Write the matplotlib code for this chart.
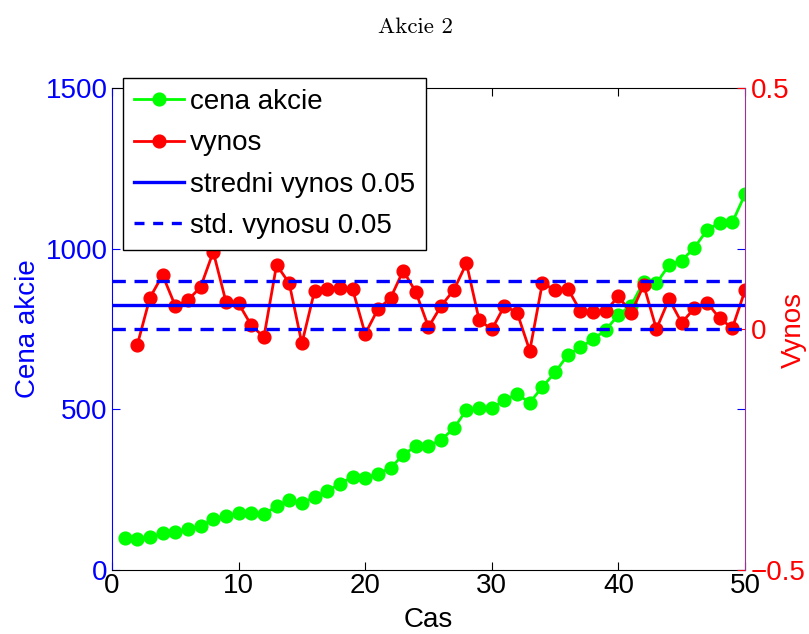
import matplotlib
matplotlib.use("Agg")
from matplotlib import pyplot as plt
from matplotlib.lines import Line2D
import numpy as np

# data
cas = np.arange(1, 51)
cena = [99, 96, 102, 114, 119, 127, 137, 158, 168, 176,
        178, 173, 199, 218, 209, 226, 246, 268, 290, 287,
        299, 318, 358, 386, 386, 405, 441, 498, 503, 503,
        529, 547, 521, 570, 615, 669, 693, 718, 747, 794,
        823, 897, 892, 949, 963, 1003, 1058, 1081, 1082, 1169]
cas_vynos = np.arange(2, 51)
vynos = [-0.033, 0.065, 0.112, 0.048, 0.060, 0.087, 0.160, 0.057, 0.053,
         0.008, -0.017, 0.133, 0.095, -0.030, 0.079, 0.084, 0.086, 0.083,
         -0.010, 0.041, 0.064, 0.121, 0.077, 0.004, 0.048, 0.081, 0.136,
         0.019, -0.001, 0.048, 0.034, -0.045, 0.096, 0.080, 0.084, 0.037,
         0.036, 0.037, 0.068, 0.033, 0.091, 0.000, 0.062, 0.013, 0.043,
         0.055, 0.022, 0.002, 0.080]
stredni = 0.05
std_vynosu = 0.05

plt.rcParams['font.family'] = ['Liberation Sans', 'DejaVu Sans']

fig = plt.figure(figsize=(8.09, 6.34), dpi=100)
ax = fig.add_axes([0.1384, 0.1009, 0.7825, 0.7603])
ax2 = ax.twinx()

green = '#00ff00'
lw, ms = 2.0, 9.2
dash = (4.0, 2.6)
ax.plot(cas, cena, '-o', color=green, lw=lw, ms=ms)
ax.set_xlim(0, 50)
ax.set_ylim(0, 1500)
ax.set_xticks(range(0, 51, 10))
ax.set_yticks([0, 500, 1000, 1500])

ax2.plot(cas_vynos, vynos, '-o', color='red', lw=lw, ms=ms)
ax2.plot([0, 50], [stredni, stredni], '-', color='blue', lw=2.4)
ax2.plot([0, 50], [stredni + std_vynosu] * 2, '--', color='blue', lw=2.4, dashes=dash)
ax2.plot([0, 50], [stredni - std_vynosu] * 2, '--', color='blue', lw=2.4, dashes=dash)
ax2.set_ylim(-0.5, 0.5)
ax2.set_yticks([-0.5, 0, 0.5])
ax2.set_yticklabels(['\u22120.5', '0', '0.5'])

fs = 20
ax.tick_params(axis='x', direction='in', length=6, labelsize=fs, top=True, colors='black', pad=2)
ax.tick_params(axis='y', direction='in', length=6, labelsize=fs, right=True, colors='blue', pad=3)
ax2.tick_params(axis='y', direction='in', length=6, labelsize=fs, colors='red', pad=4)

ax.spines['left'].set_color('blue')
ax2.spines['left'].set_visible(False)
ax.spines['right'].set_visible(False)
ax2.spines['right'].set_color('#993399')
ax2.spines['top'].set_visible(False)
ax2.spines['bottom'].set_visible(False)

ax.set_xlabel('Cas', fontsize=fs)
ax.xaxis.set_label_coords(0.5, -(620 - 570) / 482)
ax.xaxis.label.set_va('center')
ax.set_ylabel('Cena akcie', fontsize=fs, color='blue')
ax.yaxis.set_label_coords((28 - 112) / 633, 0.5)
ax.yaxis.label.set_va('center')
ax2.set_ylabel('Vynos', fontsize=fs, color='red')
ax2.yaxis.set_label_coords((794 - 112) / 633, (570 - 330) / 482)
ax2.yaxis.label.set_va('center')

fig.text(415 / 809, 1 - 27 / 634, 'Akcie 2', family='cmr10',
         fontsize=16.5, ha='center', va='center')

handles = [
    Line2D([], [], color=green, lw=lw, marker='o', ms=ms),
    Line2D([], [], color='red', lw=lw, marker='o', ms=ms),
    Line2D([], [], color='blue', lw=2.4),
    Line2D([], [], color='blue', lw=2.4, ls='--', dashes=(3.0, 2.6)),
]
labels = ['cena akcie', 'vynos', 'stredni vynos 0.05', 'std. vynosu 0.05']
leg = ax2.legend(handles, labels, loc='upper left', bbox_to_anchor=(123 / 809, 1 - 78 / 634),
                 bbox_transform=fig.transFigure, borderaxespad=0, fontsize=fs,
                 fancybox=False, framealpha=1, edgecolor='black', handlelength=1.8,
                 handletextpad=0.2, labelspacing=0.55, borderpad=0.4)
leg.get_frame().set_linewidth(1.0)

fig.savefig('out.png', dpi=100)
